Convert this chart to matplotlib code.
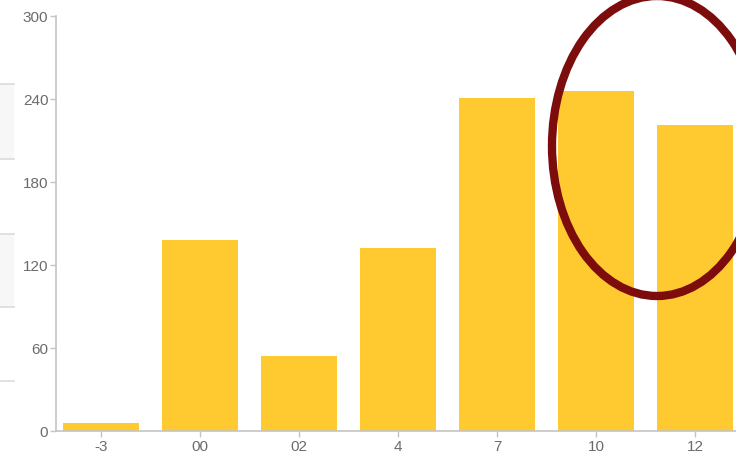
import matplotlib
matplotlib.use("Agg")
from matplotlib import pyplot as plt
from matplotlib.patches import Ellipse, Rectangle

plt.rcParams['font.family'] = ['Liberation Sans', 'DejaVu Sans']

categories = ["-3", "00", "02", "4", "7", "10", "12"]
values = [6, 138, 54, 132, 241, 246, 221]
y_ticks = [0, 60, 120, 180, 240, 300]

bar_color = "#ffca2f"
axis_color = "#c4c4c4"
text_color = "#6b6b6b"

fig = plt.figure(figsize=(7.36, 4.52), dpi=100)
ax = fig.add_axes([56 / 736, 20 / 452, 680 / 736, 415 / 452])

x = list(range(len(categories)))
ax.bar(x, values, width=0.76, color=bar_color, zorder=2)

ax.set_xlim(-0.455, 6.415)
ax.set_ylim(0, 300)
ax.set_xticks(x)
ax.set_xticklabels(categories)
ax.set_yticks(y_ticks)

for s in ["top", "right"]:
    ax.spines[s].set_visible(False)
for s in ["left", "bottom"]:
    ax.spines[s].set_color(axis_color)
    ax.spines[s].set_linewidth(1.2)

ax.tick_params(axis="both", colors=axis_color, labelcolor=text_color,
               labelsize=11, length=4, width=1, pad=1.5)

# grey panel remnants at the left edge
for y0, y1 in [(85, 160), (235, 308)]:
    fig.patches.append(Rectangle((0, 1 - y1 / 452), 14 / 736, (y1 - y0) / 452,
                                 transform=fig.transFigure, facecolor="#f7f7f7",
                                 edgecolor="none"))
for yl in [85, 160, 235, 308, 382]:
    fig.add_artist(plt.Line2D([0, 14 / 736], [1 - yl / 452, 1 - yl / 452],
                              transform=fig.transFigure, color="#dcdcdc", lw=1.2))

# highlight ring
fig.patches.append(Ellipse((657 / 736, 1 - 147 / 452), 210 / 736, 300 / 452,
                           transform=fig.transFigure, fill=False,
                           edgecolor="#7d0c0c", linewidth=6, zorder=5))

fig.savefig("out.png", dpi=100)
